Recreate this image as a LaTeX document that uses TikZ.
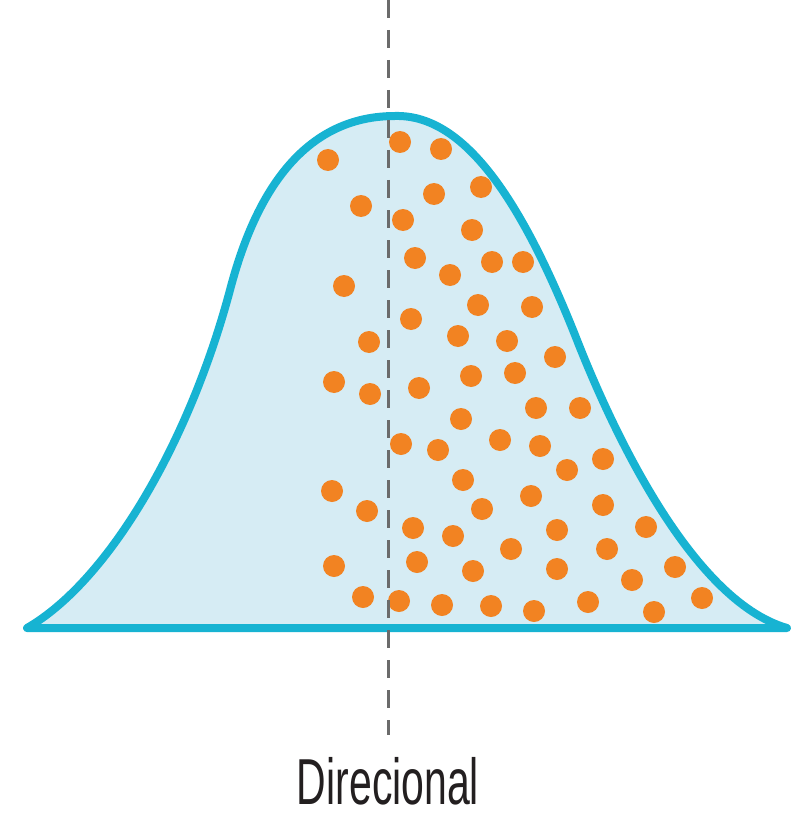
\documentclass[tikz,border=0pt]{standalone}
\usepackage{fontspec}
\setmainfont{Liberation Sans}
\usetikzlibrary{positioning}
\definecolor{curvecyan}{HTML}{17B3D2}
\definecolor{curvefill}{HTML}{D6ECF4}
\definecolor{dotorange}{HTML}{F28322}
\definecolor{axisgrey}{HTML}{6B6B6B}
\definecolor{textdark}{HTML}{231F20}
\tikzset{curve/.style={draw=curvecyan,fill=curvefill,line width=8pt,line join=round},dot/.style={circle,fill=dotorange,inner sep=0pt,minimum size=22pt},axis/.style={draw=axisgrey,line width=3pt,dash pattern=on 18pt off 12pt},caption/.style={text=textdark,font=\fontsize{65}{65}\selectfont,xscale=0.63,inner sep=0pt,anchor=base}}

\begin{document}
\begin{tikzpicture}[x=1pt,y=-1pt]
\useasboundingbox (0,0) rectangle (800,813);
\coordinate (bl) at (27,628);
\coordinate (kneeL) at (230,290);
\coordinate (peak) at (395,116);
\coordinate (kneeR) at (575,335);
\coordinate (br) at (787,628);
\draw[curve] (bl) .. controls (110,580) and (190,440) .. (kneeL)
  .. controls (250,214) and (292,116) .. (peak)
  .. controls (468,114) and (525,210) .. (kneeR)
  .. controls (610,425) and (690,600) .. (br) -- cycle;
% particles
\foreach \px/\py [count=\i] in {328/160,361/206,344/286,369/342,334/382,370/394,332/491,367/511,334/566,363/597,
  400/142,441/149,434/194,481/187,403/220,472/230,415/258,450/275,492/262,523/262,
  478/305,532/307,411/319,458/336,507/341,555/357,471/376,515/373,419/388,536/408,
  580/408,461/419,401/444,438/450,500/440,540/446,567/470,603/459,463/480,531/496,
  482/509,603/505,413/528,453/536,557/530,646/527,511/549,607/549,417/562,473/571,
  557/569,675/567,632/580,399/601,442/605,491/606,534/611,588/602,654/612,702/598}
  \node[dot] (p\i) at (\px,\py) {};
\coordinate (axtop) at (388,0);
\coordinate (axbot) at (388,735);
\draw[axis] (axtop) -- (axbot);
\node[caption] (label) at (388,804) {Direcional};
\end{tikzpicture}
\end{document}
